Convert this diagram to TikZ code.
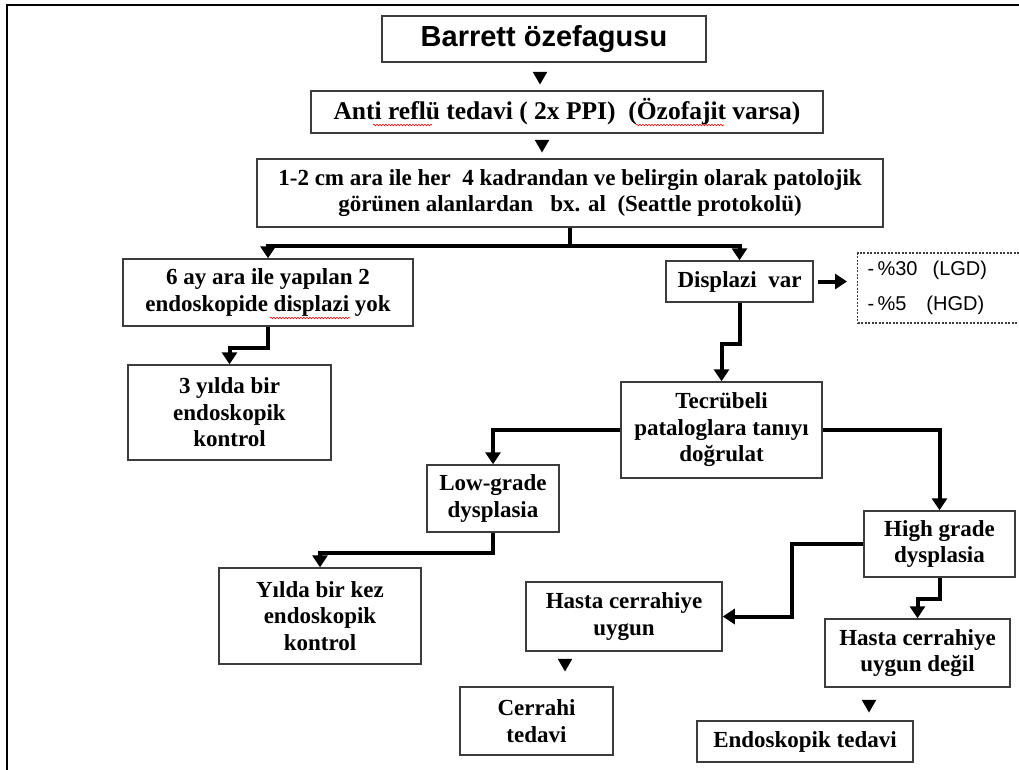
\documentclass[tikz,border=0pt]{standalone}
\usepackage{fontspec}
\setmainfont{Liberation Serif}
\setsansfont{Liberation Sans}
\usetikzlibrary{arrows.meta,shapes.geometric,decorations.pathmorphing}
\definecolor{boxline}{RGB}{60,60,60}
\begin{document}
\begin{tikzpicture}[x=1pt,y=-1pt,
  box/.style={draw=boxline,line width=1.5pt,fill=white,align=center,inner sep=0pt,
    font=\bfseries\fontsize{23}{26.5}\selectfont},
  flow/.style={line width=4pt,-{Triangle[width=15pt,length=12pt]}},
  tri/.style={regular polygon,regular polygon sides=3,shape border rotate=180,
    fill,draw=none,minimum size=17pt,inner sep=0pt},
  squiggle/.style={red,line width=0.6pt,decorate,
    decoration={snake,segment length=3pt,amplitude=0.8pt}}]
\useasboundingbox (0,0) rectangle (1019,769);
\draw[line width=2.5pt] (7,775) -- (7,5) -- (1030,5);
\node[box,minimum width=324pt,minimum height=46pt,font=\sffamily\bfseries\fontsize{29}{32}\selectfont] (barrett) at (544,39) {Barrett özefagusu};
\node[box,minimum width=512pt,minimum height=42pt,font=\bfseries\fontsize{25.5}{28}\selectfont] (anti) at (567,112) {Anti reflü tedavi ( 2x PPI)\ \ (Özofajit varsa)};
\node[box,minimum width=626pt,minimum height=68pt] (bx) at (570,193) {1-2 cm ara ile her\ \ 4 kadrandan ve belirgin olarak patolojik\\ görünen alanlardan\ \ \ bx. al\ \ (Seattle protokolü)};
\node[box,minimum width=290pt,minimum height=67pt] (noDys) at (268,292.5) {6 ay ara ile yapılan 2\\ endoskopide displazi yok};
\node[box,minimum width=147pt,minimum height=41pt] (dys) at (739.5,281.5) {Displazi\ \ var};
\node[draw=boxline,line width=1.2pt,dash pattern=on 2pt off 1.5pt,minimum width=170pt,
  minimum height=70pt,text width=150pt,align=left,inner xsep=10pt,inner ysep=0pt,
  font=\sffamily\fontsize{20}{35}\selectfont,anchor=west] (risk) at (857,288)
  {-\,\%30\hspace{15pt}(LGD)\\ -\,\%5\hspace{20pt}(HGD)};
\node[box,minimum width=203pt,minimum height=95pt] (three) at (229.5,412.5) {3 yılda bir\\ endoskopik\\ kontrol};
\node[box,minimum width=201pt,minimum height=96pt] (tecr) at (721.5,430) {Tecrübeli\\ pataloglara tanıyı\\ doğrulat};
\node[box,minimum width=132pt,minimum height=67pt] (low) at (493,498.5) {Low-grade\\ dysplasia};
\node[box,minimum width=151pt,minimum height=66pt] (high) at (939.5,544) {High grade\\ dysplasia};
\node[box,minimum width=202pt,minimum height=96pt] (yearly) at (320,616) {Yılda bir kez\\ endoskopik\\ kontrol};
\node[box,minimum width=196pt,minimum height=69pt] (fit) at (624,616.5) {Hasta cerrahiye\\ uygun};
\node[box,minimum width=153pt,minimum height=68pt] (surg) at (536.5,721) {Cerrahi\\ tedavi};
\node[box,minimum width=185pt,minimum height=68pt] (unfit) at (917.5,653) {Hasta cerrahiye\\ uygun değil};
\node[box,minimum width=216pt,minimum height=41pt] (endo) at (805,741.5) {Endoskopik tedavi};
\node[tri] (t1) at (540,76) {};
\node[tri] (t2) at (542,144) {};
\node[tri] (t3) at (565,663) {};
\node[tri] (t4) at (869,704) {};
\draw[flow] (bx.south) -- ++(0,18) coordinate (split) -| (noDys.north);
\draw[flow] (split) -| (dys.north);
\draw[flow] (noDys.south) -- ++(0,21) -| (three.north);
\draw[flow] (dys.south) -- ++(0,41) -| (tecr.north);
\draw[flow,shorten <=4pt,shorten >=10pt] (dys.east) -- (dys.east -| risk.west);
\draw[flow] (tecr.west) -| (low.north);
\draw[flow] (tecr.east) -| (high.north);
\draw[flow] (low.south) -- ++(0,20) -| (yearly.north);
\draw[flow] (high.west) -- ++(-71,0) |- (fit.east);
\draw[flow] (high.south) -- ++(0,21) -| (unfit.north);
% spelling marks
\draw[squiggle] (373,125) -- (432,125);
\draw[squiggle] (636,125) -- (724,125);
\draw[squiggle] (270,318) -- (350,318);
\end{tikzpicture}
\end{document}
